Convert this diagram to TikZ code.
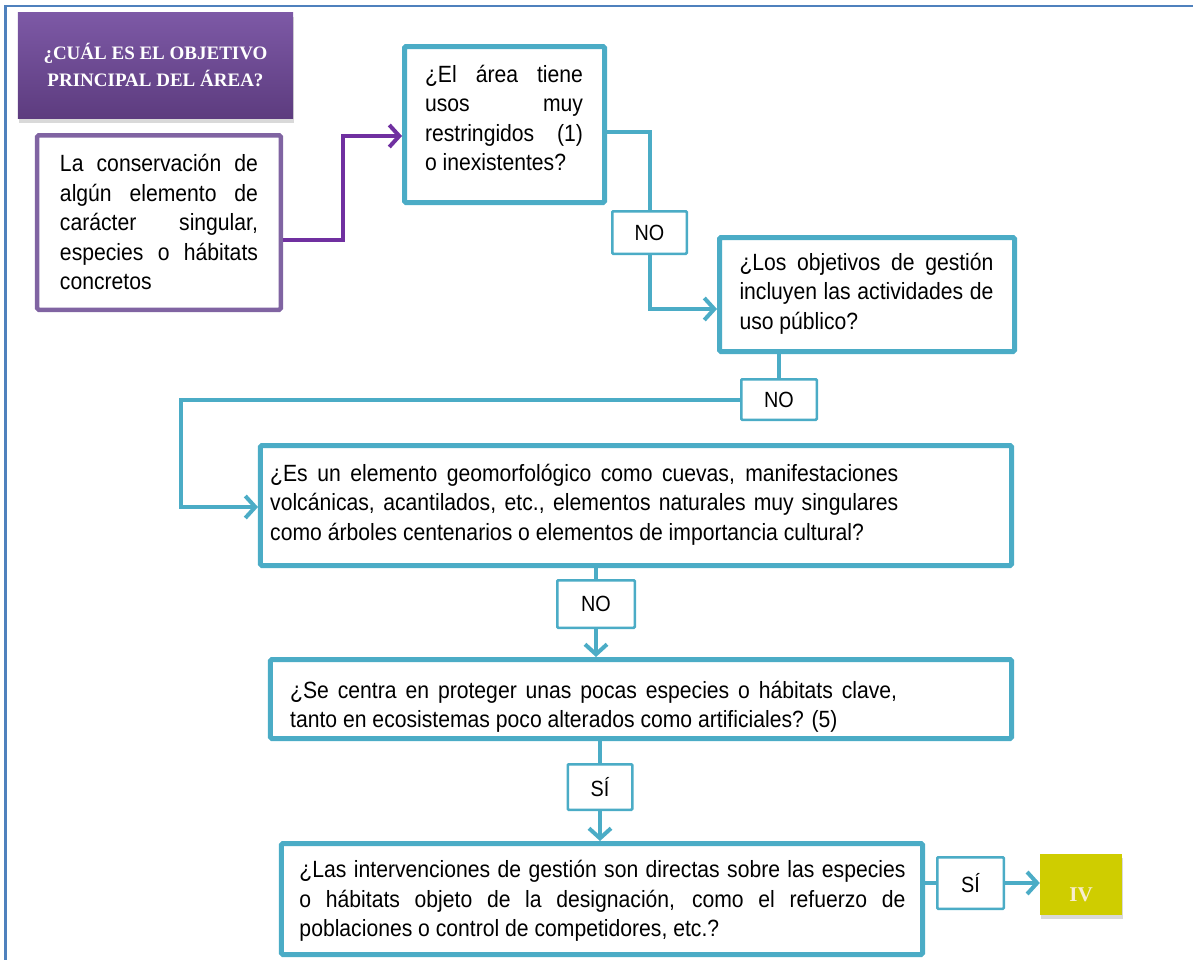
\documentclass[tikz,border=0pt]{standalone}
\usepackage{fontspec}
\setmainfont{Liberation Sans}[FakeStretch=0.9]
\newfontfamily\titlefont{Liberation Serif}
\usetikzlibrary{arrows.meta,shadows}
\definecolor{tealc}{HTML}{4BACC6}
\definecolor{purpb}{HTML}{8064A2}
\definecolor{purpl}{HTML}{7030A0}
\definecolor{frameb}{HTML}{4F81BD}
\definecolor{titletop}{HTML}{7D59A6}
\definecolor{titlebot}{HTML}{5D3C7F}
\definecolor{ivfill}{HTML}{CFCD00}
\definecolor{ivtext}{HTML}{F8EDCF}
\tikzset{
  qbox/.style={draw=tealc, line width=5bp, rounded corners=1.5bp, fill=white, inner sep=0pt},
  pbox/.style={draw=purpb, line width=4.5bp, rounded corners=1.5bp, fill=white, inner sep=0pt},
  ansbox/.style={draw=tealc, line width=2.5bp, rounded corners=1bp, fill=white, inner sep=0pt,
    font=\fontsize{22bp}{26bp}\selectfont},
  qtext/.style={inner sep=0pt, align=justify, font=\fontsize{23.5bp}{29.5bp}\selectfont},
  tline/.style={draw=tealc, line width=4bp},
  tarrow/.style={draw=tealc, line width=4bp, -{Straight Barb[length=10bp,width=22bp]}},
  parrow/.style={draw=purpl, line width=4bp, -{Straight Barb[length=10bp,width=22bp]}},
  titlebox/.style={top color=titletop, bottom color=titlebot, draw=none, inner sep=0pt,
    drop shadow={opacity=0.3, shadow xshift=1bp, shadow yshift=-5bp},
    text=white, align=center, font=\titlefont\bfseries\fontsize{19bp}{27bp}\selectfont},
  ivbox/.style={fill=ivfill, draw=none, inner sep=0pt,
    drop shadow={opacity=0.3, shadow xshift=1bp, shadow yshift=-4bp}},
  frame/.style={draw=frameb, line width=2.6bp}
}
\begin{document}
\begin{tikzpicture}[x=1bp,y=-1bp]
\useasboundingbox (0,0) rectangle (1193,960);
\draw[frame] (5.3,960) -- (5.3,6) -- (1193,6);

% title
\node[titlebox, minimum width=275bp, minimum height=106bp] (T) at (155.5,65)
  {¿CUÁL ES EL OBJETIVO\\PRINCIPAL DEL ÁREA?};

% boxes
\node[pbox, minimum width=243.5bp, minimum height=174.5bp] (A) at (159,222.5) {};
\node[qtext, text width=198bp] (At) at (159,222) {La conservación de\linebreak algún elemento de\linebreak carácter singular,\linebreak especies o hábitats\linebreak concretos};

\node[qbox, minimum width=200bp, minimum height=156bp] (B) at (504.5,124.5) {};
\node[qtext, text width=158bp] (Bt) at (504,118) {¿El área tiene\linebreak usos muy\linebreak restringidos (1)\linebreak o inexistentes?};

\node[ansbox, minimum width=74.5bp, minimum height=42.5bp] (N1) at (649.5,232.5) {NO};

\node[qbox, minimum width=295bp, minimum height=114bp] (C) at (867,294.5) {};
\node[qtext, text width=254bp] (Ct) at (866.5,293.5) {¿Los objetivos de gestión\linebreak incluyen las actividades de\linebreak uso público?};

\node[ansbox, minimum width=75.5bp, minimum height=40.5bp] (N2) at (779,399.5) {NO};

\node[qbox, minimum width=751bp, minimum height=120bp] (D) at (636,505.5) {};
\node[qtext, text width=628bp, anchor=west] (Dt) at (270,504.5) {¿Es un elemento geomorfológico como cuevas, manifestaciones\linebreak volcánicas, acantilados, etc., elementos naturales muy singulares\linebreak como árboles centenarios o elementos de importancia cultural?};

\node[ansbox, minimum width=77.5bp, minimum height=47.5bp] (N3) at (596,604) {NO};

\node[qbox, minimum width=741bp, minimum height=79bp] (E) at (641,699) {};
\node[qtext, text width=607bp, anchor=west] (Et) at (290,707) {¿Se centra en proteger unas pocas especies o hábitats clave,\linebreak tanto en ecosistemas poco alterados como artificiales? (5)};

\node[ansbox, minimum width=64.5bp, minimum height=45.5bp] (S1) at (600,787) {SÍ};

\node[qbox, minimum width=641bp, minimum height=111bp] (F) at (602,899) {};
\node[qtext, text width=606bp] (Ft) at (602.5,901) {¿Las intervenciones de gestión son directas sobre las especies\linebreak o hábitats objeto de la designación, como el refuerzo de\linebreak poblaciones o control de competidores, etc.?};

\node[ansbox, minimum width=66.5bp, minimum height=51.5bp] (S2) at (970.5,883) {SÍ};

\node[ivbox, minimum width=82bp, minimum height=61bp] (IV) at (1081,884.5) {};
\node[text=ivtext, inner sep=0pt, font=\titlefont\bfseries\fontsize{21bp}{24bp}\selectfont] (IVt) at (1081,895) {IV};

% connectors
\draw[parrow] (A.east |- 0,240) -- (343,240) -- (343,136) -- (B.west |- 0,136);
\draw[tline] (B.east |- 0,132) -| (N1.north);
\draw[tarrow] (N1.south) |- (C.west |- 0,309);
\draw[tline] (C.south -| N2) -- (N2.north);
\draw[tarrow] (N2.west) -- (N2.west -| 181,0) -- (181,507) -- (D.west |- 0,507);
\draw[tline] (D.south -| N3) -- (N3.north);
\draw[tarrow] (N3.south) -- (E.north -| N3);
\draw[tline] (E.south -| S1) -- (S1.north);
\draw[tarrow] (S1.south) -- (F.north -| S1);
\draw[tline] (F.east |- S2) -- (S2.west);
\draw[tarrow] (S2.east) -- (IV.west |- S2);
\end{tikzpicture}
\end{document}
